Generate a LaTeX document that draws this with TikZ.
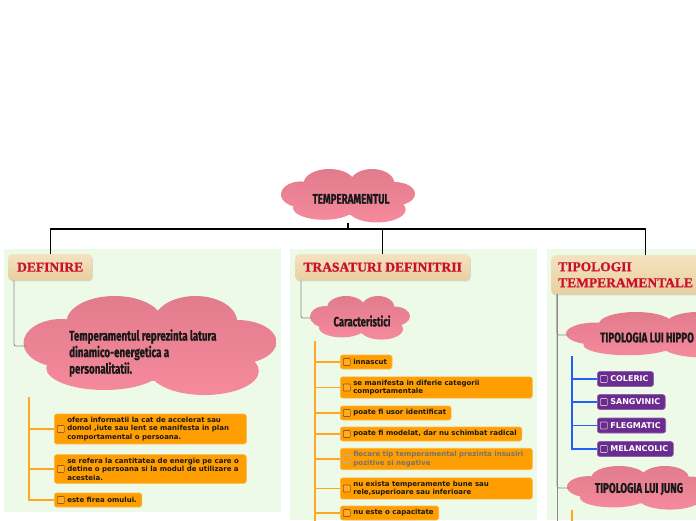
\documentclass[tikz,border=0pt]{standalone}
\usepackage{fontspec}
\usetikzlibrary{positioning, calc, shadows}
\newfontfamily\cloudfont[FakeStretch=0.7, FakeBold=0.8]{Fira Sans}
\newfontfamily\titlefont[FakeBold=1.2]{Liberation Serif}
\newfontfamily\boxfont{DejaVu Sans}
\definecolor{panelbg}{HTML}{EDFAE7}
\definecolor{cloudpink}{HTML}{F58A9B}
\definecolor{cloudtop}{HTML}{E27C8D}
\definecolor{titletan}{HTML}{E9CF9F}
\definecolor{titletop}{HTML}{F4E2C0}
\definecolor{titlered}{HTML}{C8102E}
\definecolor{boxorange}{HTML}{FF9E00}
\definecolor{boxedge}{HTML}{FFB547}
\definecolor{chkbrown}{HTML}{9A5A00}
\definecolor{tipurple}{HTML}{6A2D8F}
\definecolor{linkgray}{HTML}{8A8A8A}
\definecolor{linkorange}{HTML}{FFA622}
\definecolor{linkblue}{HTML}{2460F2}
\newcommand\boxlines[2]{\hspace*{13pt}\parbox{\dimexpr#1-17pt\relax}{\raggedright #2}\hspace*{4pt}}
\newcommand\boxline[1]{\hspace*{13pt}#1\hspace*{5pt}}
% puffed cloud: name, centre x, centre y, half width, half height
\newcommand\pinkcloud[5]{%
    \shade[shift={(#2,#3)}, x=#4pt, y=-#5pt, top color=cloudtop, bottom color=cloudpink]
        (-0.70,-0.06) circle[x radius=0.30, y radius=0.48]
        (-0.28,-0.48) circle[x radius=0.38, y radius=0.52]
        (0.36,-0.48) circle[x radius=0.33, y radius=0.52]
        (0.69,-0.08) circle[x radius=0.31, y radius=0.44]
        (-0.36,0.44) circle[x radius=0.46, y radius=0.44]
        (0.43,0.50) circle[x radius=0.43, y radius=0.48]
        (0,0) circle[x radius=0.79, y radius=0.70];
    \node[blob, minimum width=2*#4pt, minimum height=2*#5pt] (#1) at (#2,#3) {};}

\begin{document}
\begin{tikzpicture}[
    x=1pt, y=-1pt,
    blob/.style={draw=none, inner sep=0pt},
    cloudtxt/.style={font=\cloudfont\bfseries\fontsize{14}{16.5}\selectfont, text=black!90, inner sep=0pt},
    ttl/.style={rounded corners=4pt, top color=titletop, bottom color=titletan, draw=none,
        drop shadow={opacity=0.25, shadow xshift=0.6pt, shadow yshift=-1.2pt},
        anchor=north west, inner sep=0pt, text=titlered,
        font=\titlefont\bfseries\fontsize{13.5}{16}\selectfont},
    obox/.style={rounded corners=2.5pt, fill=boxorange, draw=boxedge, line width=0.6pt,
        anchor=west, inner xsep=0pt, inner ysep=3pt, minimum height=14pt, text=black!90,
        font=\boxfont\bfseries\fontsize{7}{8.6}\selectfont,
        path picture={\draw[chkbrown, line width=0.6pt, fill=boxorange!85!white, rounded corners=0.8pt]
            ([xshift=3pt]path picture bounding box.west) ++(0,-3.5pt) rectangle ++(7pt,7pt);}},
    pbox/.style={obox, fill=tipurple, draw=tipurple!75!white, text=white, minimum height=15pt,
        font=\boxfont\bfseries\fontsize{8}{9}\selectfont,
        path picture={\draw[tipurple!35!white, line width=0.6pt, rounded corners=0.8pt]
            ([xshift=3pt]path picture bounding box.west) ++(0,-3.5pt) rectangle ++(7pt,7pt);}},
    tlink/.style={black, line width=1.3pt},
    glink/.style={linkgray, line width=0.8pt, rounded corners=2pt},
    olink/.style={linkorange, line width=1.8pt},
    blink/.style={linkblue, line width=1.8pt},
]
\useasboundingbox (0,0) rectangle (696,520);
\clip (0,0) rectangle (696,520);

% ============================================================ panels
\fill[panelbg] (4,249) rectangle (281,512);
\fill[panelbg] (290,249) rectangle (537,520);
\fill[panelbg] (547,249) rectangle (696,520);

% ============================================================ root
\pinkcloud{root}{348}{196}{67}{27}
\node[cloudtxt] (roottext) at (351,199) {TEMPERAMENTUL};

\node[ttl, minimum width=84pt, minimum height=26pt] (deftitle) at (8,254) {DEFINIRE};
\node[ttl, minimum width=175pt, minimum height=26pt] (trtitle) at (295,254) {TRASATURI DEFINITRII};
\node[ttl, minimum width=189pt, minimum height=39pt, text width=175pt, inner xsep=7pt, align=left]
    (tiptitle) at (551,255) {TIPOLOGII\\TEMPERAMENTALE};

\coordinate (hub) at (348,229);
\draw[tlink] (root.south) -- (hub);
\draw[tlink] (hub) -| (deftitle.north);
\draw[tlink] (hub) -| (trtitle.north);
\draw[tlink] (hub) -| (tiptitle.north);

% ============================================================ definire
\pinkcloud{defcloud}{150}{346}{126.5}{50}
\node[cloudtxt, anchor=west, align=left] (deftext) at (69,353)
    {Temperamentul reprezinta latura\\dinamico-energetica a\\personalitatii.};
\draw[glink] ([xshift=6pt]deftitle.south west) |- ([xshift=4pt]defcloud.west);

\node[obox] (defb1) at (54,429) {\boxlines{192pt}{ofera informatii la cat de accelerat sau\\domol ,iute sau lent se manifesta in plan\\comportamental o persoana.}};
\node[obox] (defb2) at (54,469) {\boxlines{192pt}{se refera la cantitatea de energie pe care o\\detine o persoana si la modul de utilizare a\\acesteia.}};
\node[obox] (defb3) at (54,500) {\boxline{este firea omului.}};

\coordinate (deftrunk) at (29,397);
\foreach \b in {defb1, defb2, defb3}
    \draw[olink] (deftrunk) |- (\b.west);

% ============================================================ trasaturi
\pinkcloud{carcloud}{360}{318}{50}{22}
\node[cloudtxt, font=\cloudfont\bfseries\fontsize{13.5}{16}\selectfont] (cartext) at (362,321) {Caracteristici};
\draw[glink] ([xshift=6pt]trtitle.south west) |- ([xshift=3pt]carcloud.west);

\node[obox] (trb1) at (340,362) {\boxline{innascut}};
\node[obox] (trb2) at (340,387.5) {\boxlines{192pt}{se manifesta in diferie categorii\\comportamentale}};
\node[obox] (trb3) at (340,413) {\boxline{poate fi usor identificat}};
\node[obox] (trb4) at (340,434) {\boxline{poate fi modelat, dar nu schimbat radical}};
\node[obox, text=black!55, path picture={\draw[black!30, line width=0.6pt, rounded corners=0.8pt]
    ([xshift=3pt]path picture bounding box.west) ++(0,-3.5pt) rectangle ++(7pt,7pt);}]
    (trb5) at (340,459) {\boxlines{192pt}{fiecare tip temperamental prezinta insusiri\\pozitive si negative}};
\node[obox] (trb6) at (340,488.5) {\boxlines{192pt}{nu exista temperamente bune sau\\rele,superioare sau inferioare}};
\node[obox] (trb7) at (340,513) {\boxline{nu este o capacitate}};

\coordinate (trtrunk) at (315,341);
\coordinate (trnext) at (315,530);
\draw[olink] (trtrunk) -- (trnext);
\foreach \b in {trb1, trb2, trb3, trb4, trb5, trb6, trb7}
    \draw[olink] (trtrunk) |- (\b.west);

% ============================================================ tipologii
\pinkcloud{hipcloud}{663}{335}{97}{23}
\node[cloudtxt, anchor=west] (hiptext) at (600,337.5) {TIPOLOGIA LUI HIPPO};
\pinkcloud{jungcloud}{639}{488}{72}{22}
\node[cloudtxt] (jungtext) at (639,489) {TIPOLOGIA LUI JUNG};

\coordinate (tipnext) at (557,530);
\draw[glink] ([xshift=6pt]tiptitle.south west) |- ([xshift=3pt]hipcloud.west);
\draw[glink] ([xshift=6pt]tiptitle.south west) |- ([xshift=3pt]jungcloud.west);
\draw[glink] ([xshift=6pt]tiptitle.south west) -- (tipnext);

\node[pbox] (col) at (597,379) {\boxline{COLERIC}};
\node[pbox] (san) at (597,402) {\boxline{SANGVINIC}};
\node[pbox] (fle) at (597,425.5) {\boxline{FLEGMATIC}};
\node[pbox] (mel) at (597,449) {\boxline{MELANCOLIC}};

\coordinate (hiptrunk) at (572,356);
\foreach \b in {col, san, fle, mel}
    \draw[blink] (hiptrunk) |- (\b.west);

\coordinate (jungtrunk) at (572,510);
\coordinate (jungnext) at (572,530);
\draw[olink] (jungtrunk) -- (jungnext);

\end{tikzpicture}
\end{document}
